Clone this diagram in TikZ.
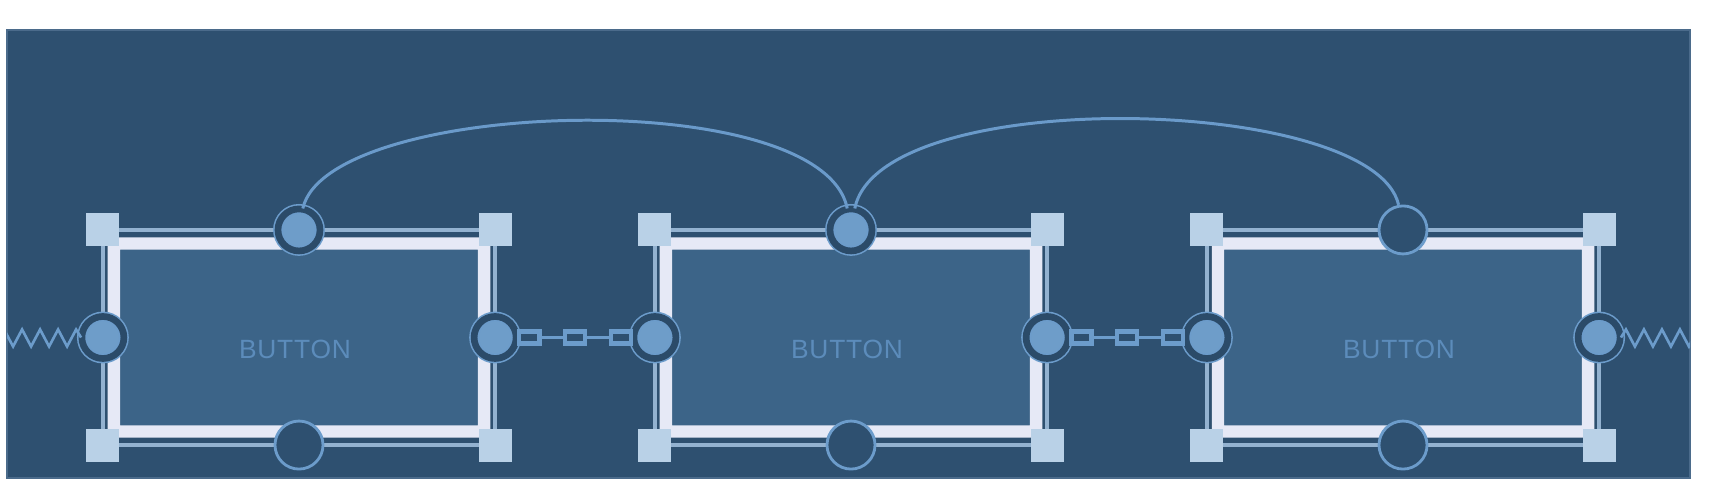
\documentclass[tikz,border=0pt]{standalone}
\usepackage{fontspec}
\setmainfont{Liberation Sans}
\newfontfamily\btnfont[LetterSpace=3]{Liberation Sans}
\usetikzlibrary{calc}
\definecolor{bgc}{HTML}{2E5070}
\definecolor{bgedge}{HTML}{4B6B8B}
\definecolor{innerc}{HTML}{3C6488}
\definecolor{bandc}{HTML}{E6E9F6}
\definecolor{thinc}{HTML}{93B2D0}
\definecolor{handlec}{HTML}{B9D1E7}
\definecolor{ringlight}{HTML}{6C9CCB}
\definecolor{ringdark}{HTML}{2B4B69}
\definecolor{anchorfill}{HTML}{6E9DC9}
\definecolor{textc}{HTML}{5C8CBB}
\definecolor{curvec}{HTML}{6A9ACA}
\begin{document}
\begin{tikzpicture}[x=0.01cm,y=-0.01cm,
  boxnode/.style={rectangle, minimum width=3.92cm, minimum height=2.15cm, inner sep=0pt, outer sep=0pt, draw=thinc, line width=1.1pt},
  band/.style={draw=bandc, fill=innerc, line width=3.5pt, rounded corners=1pt},
  handle/.style={rectangle, minimum size=0.33cm, inner sep=0pt, fill=handlec},
  fullanchor/.style={circle, minimum size=0.42cm, inner sep=0pt, fill=anchorfill, draw=ringlight, line width=0.45pt, double=ringdark, double distance=1.9pt},
  emptyanchor/.style={circle, minimum size=0.48cm, inner sep=0pt, fill=bgc, draw=ringlight, line width=0.8pt},
  btntext/.style={text=textc, font=\btnfont\fontsize{7.5pt}{8.5pt}\selectfont, inner sep=0pt},
  arcline/.style={draw=curvec, line width=0.85pt},
  springline/.style={draw=ringlight, line width=0.75pt, line join=miter},
  chainline/.style={draw=ringlight, line width=1.1pt},
  linkbox/.style={rectangle, minimum width=0.2cm, minimum height=0.12cm, inner sep=0pt, draw=ringlight, fill=bgc, line width=1.3pt}
]
\useasboundingbox (0,0) rectangle (1713,498);
\fill[bgc, draw=bgedge, line width=0.4pt] (7,30) rectangle (1690,478);

% boxes
\foreach \i/\cx in {1/299, 2/851, 3/1403} {
  \node[boxnode] (b\i) at (\cx,337.5) {};
  \draw[band] ($(b\i.north west)+(11,13.5)$) rectangle ($(b\i.south east)+(-11,-13.5)$);
  \node[btntext] (t\i) at ($(b\i.center)+(-4,12)$) {BUTTON};
  \foreach \a/\n in {north west/nw, north east/ne, south west/sw, south east/se}
    \node[handle] (b\i-\n) at (b\i.\a) {};
  \node[fullanchor] (b\i-w) at (b\i.west) {};
  \node[fullanchor] (b\i-e) at (b\i.east) {};
  \node[emptyanchor] (b\i-s) at (b\i.south) {};
}
\node[fullanchor] (b1-n) at (b1.north) {};
\node[fullanchor] (b2-n) at (b2.north) {};
\node[emptyanchor] (b3-n) at (b3.north) {};

% curved connections
\draw[arcline] (b1-n.80) .. controls +(25,-110) and +(-25,-125) .. (b2-n.100);
\draw[arcline] (b2-n.80) .. controls +(25,-125) and +(-25,-110) .. (b3-n.100);

% chains
\foreach \a/\b in {1/2, 2/3} {
  \draw[chainline] (b\a-e.east) -- (b\b-w.west);
  \node[linkbox, anchor=west] (k\a a) at (b\a-e.east) {};
  \node[linkbox] (k\a b) at ($(b\a-e.east)!0.5!(b\b-w.west)$) {};
  \node[linkbox, anchor=east] (k\a c) at (b\b-w.west) {};
}

% springs
\begin{scope}
  \clip (7,30) rectangle (1690,478);
  \draw[springline] (b1-w.west) -- ++(-5,-8)
    -- ++(-9,17) -- ++(-9,-17) -- ++(-9,17) -- ++(-9,-17)
    -- ++(-9,17) -- ++(-9,-17) -- ++(-9,17) -- ++(-9,-17);
  \draw[springline] (b3-e.east) -- ++(5,-8)
    -- ++(9,17) -- ++(9,-17) -- ++(9,17) -- ++(9,-17)
    -- ++(9,17) -- ++(9,-17) -- ++(9,17) -- ++(9,-17);
\end{scope}
\end{tikzpicture}
\end{document}
